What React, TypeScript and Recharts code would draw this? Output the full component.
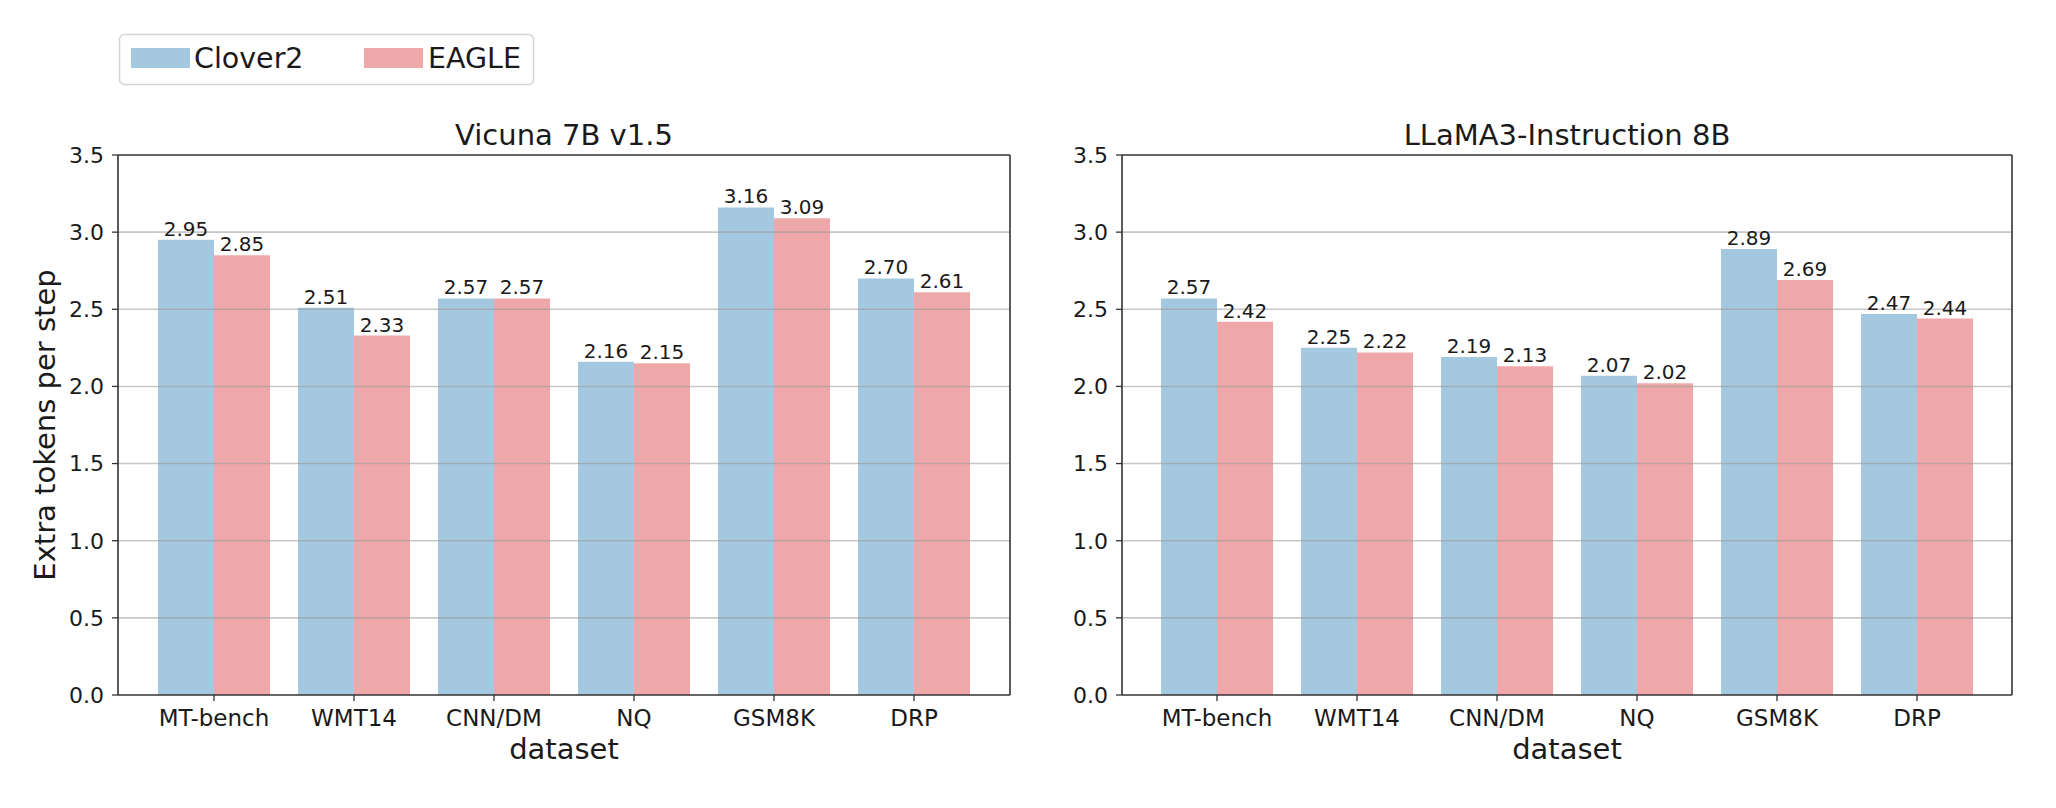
import React from 'react';
import { BarChart, Bar, XAxis, YAxis, ReferenceLine, LabelList } from 'recharts';

// data
const categories = ['MT-bench', 'WMT14', 'CNN/DM', 'NQ', 'GSM8K', 'DRP'];
const vicunaClover2 = [2.95, 2.51, 2.57, 2.16, 3.16, 2.7];
const vicunaEagle = [2.85, 2.33, 2.57, 2.15, 3.09, 2.61];
const llamaClover2 = [2.57, 2.25, 2.19, 2.07, 2.89, 2.47];
const llamaEagle = [2.42, 2.22, 2.13, 2.02, 2.69, 2.44];
const yTicks = [0, 0.5, 1.0, 1.5, 2.0, 2.5, 3.0, 3.5];
const gridTicks = [0.5, 1.0, 1.5, 2.0, 2.5, 3.0];

const seriesNames = ['Clover2', 'EAGLE'];
const seriesColors = ['#a5c8e1', '#eea8aa'];

const FONT = 'DejaVu Sans, sans-serif';
const SPINE = '#333333';

const toRows = (a: number[], b: number[]) =>
  categories.map((name, i) => ({ name, clover2: a[i], eagle: b[i] }));

type PanelProps = {
  rows: { name: string; clover2: number; eagle: number }[];
  left: number;
  marginLeft: number;
  marginRight: number;
  pad: number;
};

const Panel = ({ rows, left, marginLeft, marginRight, pad }: PanelProps) => (
  <div style={{ position: 'absolute', left, top: 0, width: 1028, height: 808 }}>
    <BarChart
      width={1028}
      height={808}
      data={rows}
      margin={{ top: 154, left: marginLeft, right: marginRight - 1, bottom: 73 }}
      barCategoryGap="10%"
      barGap={0}
    >
      <XAxis
        dataKey="name"
        padding={{ left: pad, right: pad }}
        height={40}
        tickSize={6}
        tickMargin={9}
        interval={0}
        axisLine={{ stroke: SPINE, strokeWidth: 1.6 }}
        tickLine={{ stroke: SPINE, strokeWidth: 1.3 }}
        tick={{ fill: '#1a1a1a', fontSize: 23, fontFamily: FONT }}
      />
      {/* top and right spines */}
      <XAxis
        xAxisId="top"
        orientation="top"
        dataKey="name"
        padding={{ left: pad, right: pad }}
        height={1}
        tick={false}
        tickLine={false}
        axisLine={{ stroke: SPINE, strokeWidth: 1.6 }}
      />
      <YAxis
        domain={[0, 3.5]}
        ticks={yTicks}
        width={80}
        tickSize={6}
        tickMargin={8}
        interval={0}
        tickFormatter={(v: number) => v.toFixed(1)}
        axisLine={{ stroke: SPINE, strokeWidth: 1.6 }}
        tickLine={{ stroke: SPINE, strokeWidth: 1.3 }}
        tick={{ fill: '#1a1a1a', fontSize: 22, fontFamily: FONT }}
      />
      <YAxis
        yAxisId="right"
        orientation="right"
        domain={[0, 3.5]}
        width={1}
        tick={false}
        tickLine={false}
        axisLine={{ stroke: SPINE, strokeWidth: 1.6 }}
      />
      <Bar dataKey="clover2" fill={seriesColors[0]} isAnimationActive={false}>
        <LabelList
          dataKey="clover2"
          position="top"
          offset={4}
          formatter={(v: number) => v.toFixed(2)}
          style={{ fill: '#1a1a1a', fontSize: 20, fontFamily: FONT }}
        />
      </Bar>
      <Bar dataKey="eagle" fill={seriesColors[1]} isAnimationActive={false}>
        <LabelList
          dataKey="eagle"
          position="top"
          offset={4}
          formatter={(v: number) => v.toFixed(2)}
          style={{ fill: '#1a1a1a', fontSize: 20, fontFamily: FONT }}
        />
      </Bar>
      {gridTicks.map((t) => (
        <ReferenceLine key={t} y={t} stroke="#999999" strokeOpacity={0.55} strokeWidth={1.6} />
      ))}
    </BarChart>
  </div>
);

const App = () => {
  return (
    <div
      style={{
        position: 'absolute',
        left: 0,
        top: 0,
        width: 2056,
        height: 808,
        background: '#fff',
        fontFamily: FONT,
      }}
    >
      <Panel rows={toRows(vicunaClover2, vicunaEagle)} left={0} marginLeft={38} marginRight={18} pad={26} />
      <Panel rows={toRows(llamaClover2, llamaEagle)} left={1028} marginLeft={14} marginRight={44} pad={25} />

      <svg
        width={2056}
        height={808}
        style={{ position: 'absolute', left: 0, top: 0, pointerEvents: 'none' }}
        fontFamily={FONT}
      >
        {/* titles */}
        <text x={564} y={145} textAnchor="middle" fontSize={29} fill="#1a1a1a">Vicuna 7B v1.5</text>
        <text x={1567} y={145} textAnchor="middle" fontSize={29} fill="#1a1a1a">LLaMA3-Instruction 8B</text>
        {/* axis labels */}
        <text x={564} y={759} textAnchor="middle" fontSize={29} fill="#1a1a1a">dataset</text>
        <text x={1567} y={759} textAnchor="middle" fontSize={29} fill="#1a1a1a">dataset</text>
        <text x={55} y={425} textAnchor="middle" fontSize={29} fill="#1a1a1a" transform="rotate(-90 55 425)">
          Extra tokens per step
        </text>
        {/* legend */}
        <rect x={119.5} y={34.5} width={414} height={50} rx={5} fill="#fff" stroke="#d6d6d6" strokeWidth={1.5} />
        {seriesNames.map((name, i) => (
          <g key={name}>
            <rect x={131 + i * 233} y={48} width={59} height={20} fill={seriesColors[i]} />
            <text x={194 + i * 234} y={68} fontSize={28.5} fill="#1a1a1a">{name}</text>
          </g>
        ))}
      </svg>
    </div>
  );
};

export default App;
